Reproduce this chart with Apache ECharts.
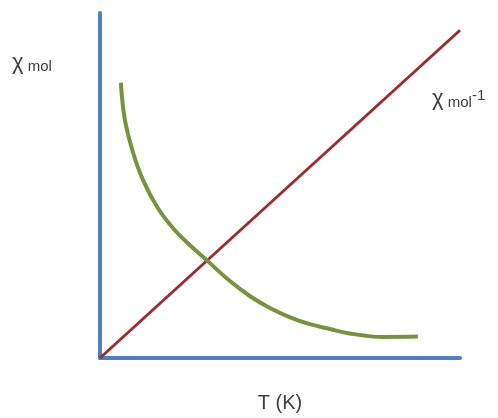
<!DOCTYPE html>
<html>
<head>
<meta charset="utf-8">
<script src="https://cdn.jsdelivr.net/npm/echarts@6/dist/echarts.min.js"></script>
<style>
  html, body { margin: 0; padding: 0; background: #fff; }
  #chart { width: 498px; height: 418px; }
</style>
</head>
<body>
<div id="chart"></div>
<script>
// Temperature (arbitrary units)
const inverseT = [0, 10];
// 1/chi rises linearly with T (Curie law)
const inverseChi = [0, 9.5];
// chi falls off as T rises
const chiT = [0.58, 0.69, 0.92, 1.19, 1.58, 2.03, 2.50, 2.97, 3.61, 4.17, 4.72, 5.28, 5.83, 6.39, 6.89, 7.86, 8.83];
const chiValues = [7.98, 6.91, 5.95, 5.17, 4.39, 3.76, 3.27, 2.83, 2.23, 1.79, 1.45, 1.18, 0.98, 0.84, 0.72, 0.61, 0.62];

const chart = echarts.init(document.getElementById('chart'));
const font = 'Liberation Sans, Arial, sans-serif';

chart.setOption({
  animation: false,
  grid: { left: 100, right: 38, top: 13, bottom: 59 },
  xAxis: {
    type: 'value', min: 0, max: 10,
    name: 'T (K)', nameLocation: 'middle', nameGap: 35,
    nameTextStyle: { fontFamily: font, fontSize: 20, color: '#404040' },
    axisLine: { lineStyle: { color: '#4f81bd', width: 4 } },
    axisTick: { show: false }, axisLabel: { show: false }, splitLine: { show: false }
  },
  yAxis: {
    type: 'value', min: 0, max: 10,
    axisLine: { lineStyle: { color: '#4f81bd', width: 4 } },
    axisTick: { show: false }, axisLabel: { show: false }, splitLine: { show: false }
  },
  graphic: [
    {
      type: 'text', left: 12, top: 52,
      style: {
        text: '{a|χ}{b| mol}',
        rich: {
          a: { fontFamily: font, fontSize: 22, fill: '#404040' },
          b: { fontFamily: font, fontSize: 15, fill: '#404040', verticalAlign: 'bottom' }
        }
      }
    },
    {
      type: 'text', left: 432, top: 88,
      style: {
        text: '{a|χ}{b| mol}{c|-1}',
        rich: {
          a: { fontFamily: font, fontSize: 22, fill: '#404040' },
          b: { fontFamily: font, fontSize: 15, fill: '#404040', verticalAlign: 'bottom' },
          c: { fontFamily: font, fontSize: 15, fill: '#404040', verticalAlign: 'top' }
        }
      }
    }
  ],
  series: [
    {
      type: 'line', symbol: 'none',
      data: inverseT.map((t, i) => [t, inverseChi[i]]),
      lineStyle: { color: '#9b2d30', width: 3 }
    },
    {
      type: 'line', symbol: 'none', smooth: 0.4,
      data: chiT.map((t, i) => [t, chiValues[i]]),
      lineStyle: { color: '#77933c', width: 4 }
    }
  ]
});
</script>
</body>
</html>
